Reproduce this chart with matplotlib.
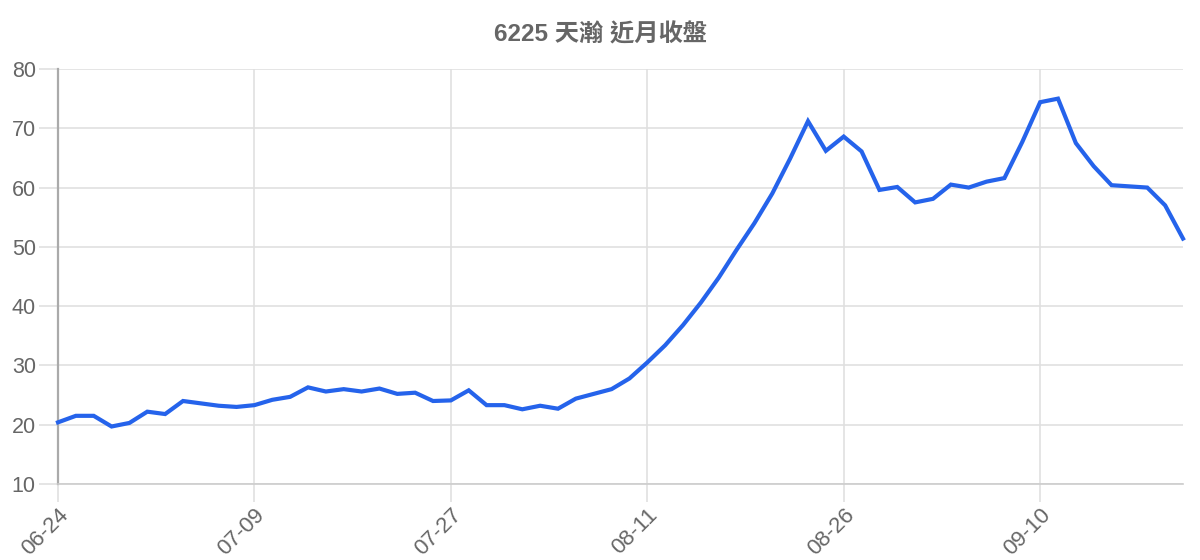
#!/usr/bin/env python3
"""6225 天瀚 近月收盤 - 收盤價走勢折線圖"""

import matplotlib
matplotlib.use('Agg')
import matplotlib.pyplot as plt

FONT_LIST = ['Liberation Sans', 'Noto Sans CJK TC', 'DejaVu Sans']
plt.rcParams['font.family'] = FONT_LIST

LINE_BLUE = '#2563eb'
GRID_GRAY = '#e0e0e0'
TEXT_GRAY = '#666666'

TITLE = '6225 天瀚 近月收盤'

# 交易日 (每 11 筆顯示一個標籤)
dates = [
    '06-24', '06-25', '06-26', '06-27', '06-28', '07-01', '07-02', '07-03',
    '07-04', '07-05', '07-08', '07-09', '07-10', '07-11', '07-12', '07-15',
    '07-16', '07-17', '07-18', '07-19', '07-22', '07-23', '07-27', '07-29',
    '07-30', '07-31', '08-01', '08-02', '08-05', '08-06', '08-07', '08-08',
    '08-09', '08-11', '08-12', '08-13', '08-14', '08-15', '08-16', '08-19',
    '08-20', '08-21', '08-22', '08-23', '08-26', '08-27', '08-28', '08-29',
    '08-30', '09-02', '09-03', '09-04', '09-05', '09-06', '09-09', '09-10',
    '09-11', '09-12', '09-13', '09-16', '09-17', '09-18', '09-19', '09-20',
]

# 收盤價
closes = [
    20.4, 21.5, 21.5, 19.7, 20.3, 22.2, 21.8, 24.0,
    23.6, 23.2, 23.0, 23.3, 24.2, 24.7, 26.3, 25.6,
    26.0, 25.6, 26.1, 25.2, 25.4, 24.0, 24.1, 25.8,
    23.3, 23.3, 22.6, 23.2, 22.7, 24.4, 25.2, 26.0,
    27.8, 30.5, 33.4, 36.8, 40.6, 44.8, 49.5, 54.0,
    59.0, 64.9, 71.2, 66.2, 68.6, 66.1, 59.6, 60.1,
    57.5, 58.1, 60.5, 60.0, 61.0, 61.6, 67.7, 74.4,
    75.0, 67.5, 63.6, 60.4, 60.2, 60.0, 57.0, 51.4,
]

y_ticks = [10, 20, 30, 40, 50, 60, 70, 80]
LABEL_EVERY = 11


def main():
    fig = plt.figure(figsize=(12, 5.6), dpi=100)
    ax = fig.add_axes([58/1200, 1 - 484/560, (1183 - 58)/1200, (484 - 69)/560])

    x = list(range(len(dates)))
    ax.plot(x, closes, color=LINE_BLUE, linewidth=3, solid_joinstyle='miter',
            zorder=3, clip_on=False)

    ax.set_xlim(0, len(dates) - 1)
    ax.set_ylim(y_ticks[0], y_ticks[-1])

    tick_idx = x[::LABEL_EVERY]
    ax.set_xticks(tick_idx)
    ax.set_xticklabels([dates[i] for i in tick_idx], rotation=45, ha='right',
                       va='top', rotation_mode='anchor')
    ax.set_yticks(y_ticks)

    ax.grid(True, color=GRID_GRAY, linewidth=1.2)
    ax.set_axisbelow(True)
    ax.tick_params(axis='both', colors=GRID_GRAY, labelcolor=TEXT_GRAY,
                   labelsize=15.5, width=1.2)
    ax.tick_params(axis='y', length=14, pad=2)
    ax.tick_params(axis='x', length=13, pad=2, labelsize=16)

    for side in ['top', 'right']:
        ax.spines[side].set_visible(False)
    ax.spines['bottom'].set_color('#cccccc')
    ax.spines['bottom'].set_linewidth(1.2)
    ax.spines['left'].set_color('#aaaaaa')
    ax.spines['left'].set_linewidth(1.6)

    fig.text(0.5, 1 - 35/560, TITLE, ha='center', va='center',
             fontsize=17.5, fontweight='bold', color=TEXT_GRAY)

    fig.savefig('out.png', dpi=100)
    plt.close(fig)


if __name__ == '__main__':
    main()
